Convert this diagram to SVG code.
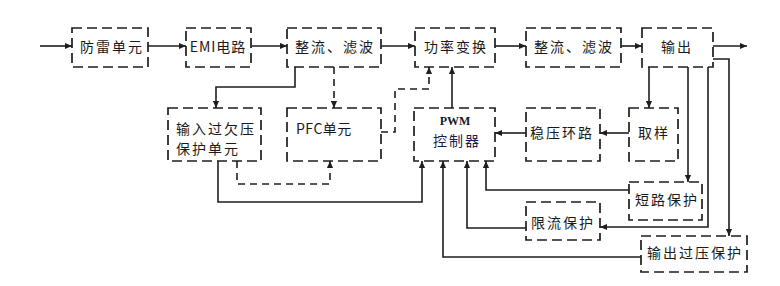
<svg xmlns="http://www.w3.org/2000/svg" width="780" height="286" viewBox="0 0 780 286">
<style>
.box{fill:#fff;stroke:#1e1e1e;stroke-width:1.7;stroke-dasharray:10 5}
.t{font-family:"Noto Sans CJK SC","Liberation Serif",serif;font-size:14px;fill:#1a1a1a;letter-spacing:2px}
.c{text-anchor:middle}
.w{fill:none;stroke:#1e1e1e;stroke-width:1.6}
.d{stroke-dasharray:7 5}
</style>
<defs>
<marker id="a" viewBox="0 0 8 8" refX="8" refY="4" markerWidth="7" markerHeight="7" markerUnits="userSpaceOnUse" orient="auto">
<path d="M0,0.5 L8,4 L0,7.5 Z" fill="#1e1e1e"/>
</marker>
</defs>
<rect width="780" height="286" fill="#fff"/>
<g id="connectors">
<path class="w" d="M40,46 H72" marker-end="url(#a)"/>
<path class="w" d="M148,46 H186" marker-end="url(#a)"/>
<path class="w" d="M251,46 H287" marker-end="url(#a)"/>
<path class="w" d="M381,46 H415" marker-end="url(#a)"/>
<path class="w" d="M495,46 H526" marker-end="url(#a)"/>
<path class="w" d="M621,46 H642" marker-end="url(#a)"/>
<path class="w" d="M713,46 H747" marker-end="url(#a)"/>
<path class="w" d="M295,67 V87 H216 V108" marker-end="url(#a)"/>
<path class="w d" d="M334,67 V108" marker-end="url(#a)"/>
<path class="w d" d="M381,132 H395 V89 H429 V67" marker-end="url(#a)"/>
<path class="w" d="M452,108 V67" marker-end="url(#a)"/>
<path class="w" d="M218,161 V202 H422 V161" marker-end="url(#a)"/>
<path class="w d" d="M237,161 V184 H330 V161" marker-end="url(#a)"/>
<path class="w" d="M649,67 V108" marker-end="url(#a)"/>
<path class="w" d="M629,133 H600" marker-end="url(#a)"/>
<path class="w" d="M526,133 H495" marker-end="url(#a)"/>
<path class="w" d="M688,67 V182" marker-end="url(#a)"/>
<path class="w" d="M708,67 V227 H600" marker-end="url(#a)"/>
<path class="w" d="M713,59 H729 V236" marker-end="url(#a)"/>
<path class="w" d="M629,190 H486 V161" marker-end="url(#a)"/>
<path class="w" d="M526,228 H467 V161" marker-end="url(#a)"/>
<path class="w" d="M641,257 H443 V161" marker-end="url(#a)"/>
</g>
<g id="n-fanglei"><rect class="box" x="72" y="28" width="76" height="39"/><text class="t c" x="112" y="52">防雷单元</text></g>
<g id="n-emi"><rect class="box" x="186" y="28" width="65" height="39"/><text class="t c" x="218" y="52" style="letter-spacing:1px">EMI电路</text></g>
<g id="n-zl1"><rect class="box" x="287" y="28" width="94" height="39"/><text class="t c" x="335" y="52">整流、滤波</text></g>
<g id="n-gl"><rect class="box" x="415" y="28" width="80" height="39"/><text class="t c" x="456" y="52">功率变换</text></g>
<g id="n-zl2"><rect class="box" x="526" y="28" width="95" height="39"/><text class="t c" x="574" y="52">整流、滤波</text></g>
<g id="n-out"><rect class="box" x="642" y="28" width="71" height="39"/><text class="t c" x="677" y="52">输出</text></g>
<g id="n-input"><rect class="box" x="168" y="108" width="93" height="53"/><text class="t" x="176" y="134">输入过欠压</text><text class="t" x="176" y="154">保护单元</text></g>
<g id="n-pfc"><rect class="box" x="287" y="108" width="94" height="53"/><text class="t" x="296" y="134" style="letter-spacing:0.5px">PFC单元</text></g>
<g id="n-pwm"><rect class="box" x="414" y="108" width="81" height="53"/><text class="c" x="455" y="125" style="font-family:'Liberation Serif',serif;font-size:12px;font-weight:bold;fill:#1a1a1a">PWM</text><text class="t c" x="457" y="146" style="fill:#1a1a55">控制器</text></g>
<g id="n-wy"><rect class="box" x="526" y="108" width="74" height="53"/><text class="t c" x="562" y="138">稳压环路</text></g>
<g id="n-qy"><rect class="box" x="629" y="108" width="49" height="53"/><text class="t c" x="654" y="138">取样</text></g>
<g id="n-dl"><rect class="box" x="629" y="182" width="73" height="38"/><text class="t c" x="667" y="205">短路保护</text></g>
<g id="n-xl"><rect class="box" x="526" y="202" width="74" height="38"/><text class="t c" x="563" y="228">限流保护</text></g>
<g id="n-gy"><rect class="box" x="641" y="236" width="106" height="36"/><text class="t c" x="695" y="258">输出过压保护</text></g>
</svg>
